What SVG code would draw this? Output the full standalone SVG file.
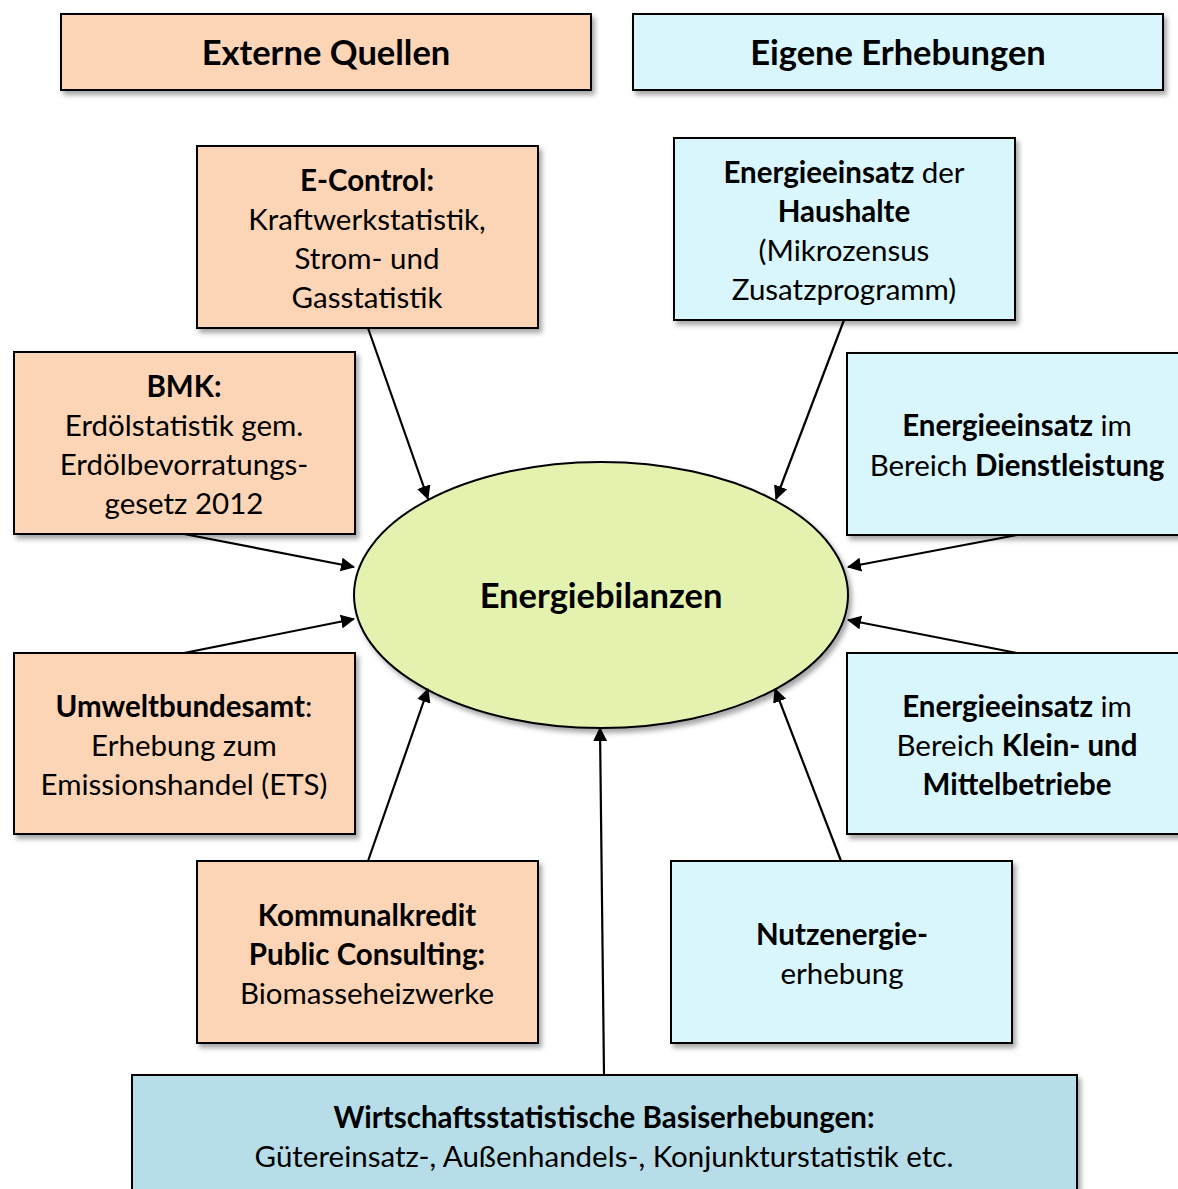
<svg xmlns="http://www.w3.org/2000/svg" width="1178" height="1189" viewBox="0 0 1178 1189">
<defs>
<filter id="sh" x="-10%" y="-10%" width="130%" height="130%">
<feDropShadow dx="3" dy="4" stdDeviation="2.5" flood-color="#000" flood-opacity="0.35"/>
</filter>
<marker id="ah" markerWidth="14" markerHeight="14" refX="13" refY="7" orient="auto" markerUnits="userSpaceOnUse">
<path d="M0,0 L14,7 L0,14 Z" fill="#000"/>
</marker>
</defs>
<style>
.box{stroke:#000;stroke-width:2;filter:url(#sh)}
.ext{fill:#FBD5B5}
.own{fill:#D8F6FB}
.base{fill:#B7DDE8}
text{font-family:Lato,"Open Sans","Liberation Sans",sans-serif;font-size:29.5px;fill:#000;text-anchor:middle}
.b{font-weight:bold}
.h{font-size:34.5px;font-weight:bold}
.conn line{stroke:#000;stroke-width:2.2;marker-end:url(#ah)}
</style>
<rect width="1178" height="1189" fill="#fff"/>
<g id="hdr-extern">
<rect class="box ext" x="61" y="14" width="530" height="76"/>
<text class="h" x="326" y="65">Externe Quellen</text>
</g>
<g id="hdr-eigen">
<rect class="box own" x="633" y="14" width="530" height="76"/>
<text class="h" x="898" y="65">Eigene Erhebungen</text>
</g>
<g id="center">
<ellipse cx="601" cy="595" rx="247" ry="133" fill="#E3F2AF" stroke="#000" stroke-width="2" filter="url(#sh)"/>
<text class="h" x="601" y="608">Energiebilanzen</text>
</g>
<g id="econtrol">
<rect class="box ext" x="197" y="146" width="341" height="182"/>
<text x="367" y="191" class="b">E-Control:</text>
<text x="367" y="230">Kraftwerkstatistik,</text>
<text x="367" y="269">Strom- und</text>
<text x="367" y="308">Gasstatistik</text>
</g>
<g id="bmk">
<rect class="box ext" x="14" y="352" width="341" height="182"/>
<text x="184" y="397" class="b">BMK:</text>
<text x="184" y="436">Erdölstatistik gem.</text>
<text x="184" y="475">Erdölbevorratungs-</text>
<text x="184" y="514">gesetz 2012</text>
</g>
<g id="umwelt">
<rect class="box ext" x="14" y="653" width="341" height="181"/>
<text x="184" y="717"><tspan class="b">Umweltbundesamt</tspan>:</text>
<text x="184" y="756">Erhebung zum</text>
<text x="184" y="795">Emissionshandel (ETS)</text>
</g>
<g id="kommunal">
<rect class="box ext" x="197" y="861" width="341" height="182"/>
<text x="367" y="926" class="b">Kommunalkredit</text>
<text x="367" y="965" class="b">Public Consulting:</text>
<text x="367" y="1004">Biomasseheizwerke</text>
</g>
<g id="haushalte">
<rect class="box own" x="674" y="138" width="341" height="182"/>
<text x="844" y="183"><tspan class="b">Energieeinsatz</tspan> der</text>
<text x="844" y="222" class="b">Haushalte</text>
<text x="844" y="261">(Mikrozensus</text>
<text x="844" y="300">Zusatzprogramm)</text>
</g>
<g id="dienstleistung">
<rect class="box own" x="847" y="353" width="345" height="182"/>
<text x="1017" y="436"><tspan class="b">Energieeinsatz</tspan> im</text>
<text x="1017" y="476">Bereich <tspan class="b">Dienstleistung</tspan></text>
</g>
<g id="kmu">
<rect class="box own" x="847" y="653" width="345" height="181"/>
<text x="1017" y="717"><tspan class="b">Energieeinsatz</tspan> im</text>
<text x="1017" y="756">Bereich <tspan class="b">Klein- und</tspan></text>
<text x="1017" y="795" class="b">Mittelbetriebe</text>
</g>
<g id="nutzenergie">
<rect class="box own" x="671" y="861" width="341" height="182"/>
<text x="842" y="945" class="b">Nutzenergie-</text>
<text x="842" y="984">erhebung</text>
</g>
<g id="wirtschaft">
<rect class="box base" x="132" y="1075" width="945" height="130"/>
<text x="604" y="1128" class="b">Wirtschaftsstatistische Basiserhebungen:</text>
<text x="604" y="1167">Gütereinsatz-, Außenhandels-, Konjunkturstatistik etc.</text>
</g>
<g id="connectors" class="conn">
<line x1="368" y1="328" x2="428" y2="499"/>
<line x1="184" y1="534" x2="354" y2="567"/>
<line x1="184" y1="653" x2="354" y2="619"/>
<line x1="368" y1="861" x2="428" y2="689"/>
<line x1="844" y1="320" x2="776" y2="499"/>
<line x1="1017" y1="535" x2="848" y2="567"/>
<line x1="1017" y1="653" x2="848" y2="620"/>
<line x1="841" y1="861" x2="775" y2="689"/>
<line x1="604" y1="1075" x2="600" y2="728"/>
</g>
</svg>
